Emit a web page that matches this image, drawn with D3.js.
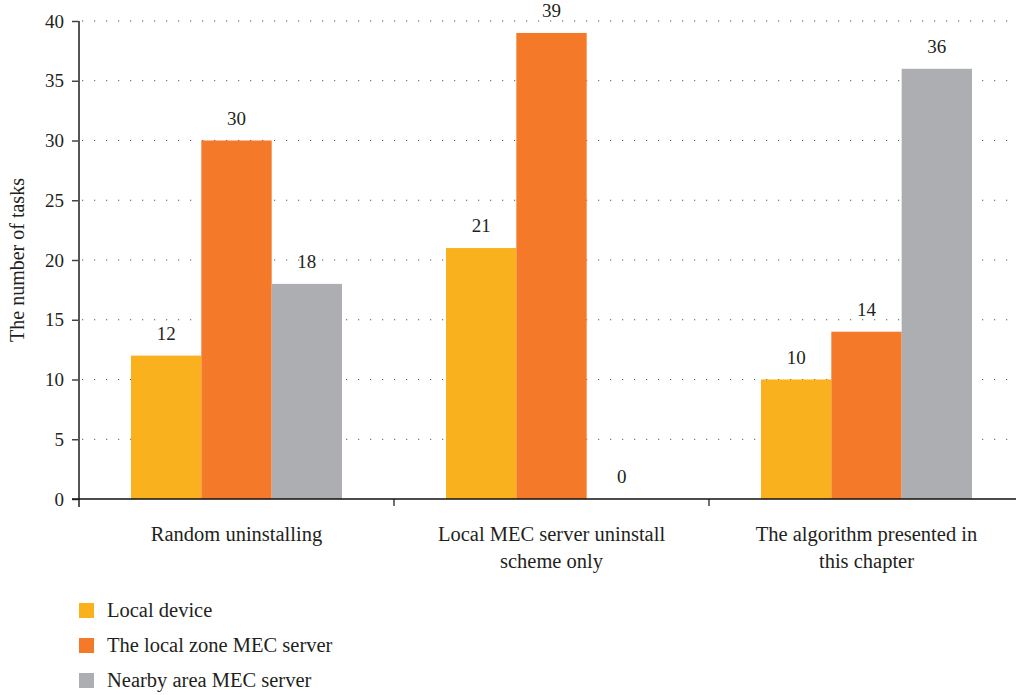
<!DOCTYPE html>
<html>
<head>
<meta charset="utf-8">
<script src="https://cdn.jsdelivr.net/npm/d3@7"></script>
<style>
  html, body { margin: 0; padding: 0; background: #fff; }
  svg text { font-family: "Liberation Serif", "DejaVu Serif", serif; fill: #231f20; }
</style>
</head>
<body>
<svg id="chart" width="1016" height="695"></svg>
<script>
// Task counts per offloading scheme
const categories = [
  ["Random uninstalling"],
  ["Local MEC server uninstall", "scheme only"],
  ["The algorithm presented in", "this chapter"]
];
const seriesNames = ["Local device", "The local zone MEC server", "Nearby area MEC server"];
const localDevice = [12, 21, 10];
const localZoneMEC = [30, 39, 14];
const nearbyAreaMEC = [18, 0, 36];
const yTicks = [0, 5, 10, 15, 20, 25, 30, 35, 40];
const colors = ["#F9B21E", "#F47A2A", "#ADAEB1"];

const seriesValues = [localDevice, localZoneMEC, nearbyAreaMEC];
const svg = d3.select("#chart");

const x0 = d3.scaleBand().domain(d3.range(categories.length)).range([79, 1024]).padding(0);
const x1 = d3.scaleBand().domain(d3.range(seriesNames.length))
  .range([52, x0.bandwidth() - 52]).padding(0);
const y = d3.scaleLinear().domain([0, 40]).range([499, 21]);

// dotted gridlines
svg.append("g").selectAll("line").data(yTicks.filter(t => t > 0)).join("line")
  .attr("x1", 82).attr("x2", 1016)
  .attr("y1", d => y(d)).attr("y2", d => y(d))
  .attr("stroke", "#555").attr("stroke-width", 1.2)
  .attr("stroke-dasharray", "1.2,10.8");

// bars
const groups = svg.append("g").selectAll("g").data(categories).join("g")
  .attr("transform", (d, i) => `translate(${x0(i)},0)`);
groups.each(function(c, ci) {
  const g = d3.select(this);
  seriesValues.forEach((vals, si) => {
    const v = vals[ci];
    g.append("rect")
      .attr("x", x1(si)).attr("width", x1.bandwidth())
      .attr("y", y(v)).attr("height", y(0) - y(v))
      .attr("fill", colors[si]);
    g.append("text")
      .attr("x", x1(si) + x1.bandwidth() / 2)
      .attr("y", y(v) - 16)
      .attr("text-anchor", "middle")
      .attr("font-size", 19)
      .text(v);
  });
});

// y axis
const yAxis = d3.axisLeft(y).tickValues(yTicks).tickSize(7).tickPadding(8);
const ya = svg.append("g").attr("transform", "translate(79,0)").call(yAxis);
ya.select(".domain").remove();
ya.selectAll(".tick line").attr("stroke", "#444").attr("stroke-width", 1.5);
ya.selectAll(".tick text").attr("font-size", 19).attr("font-family", "Liberation Serif, serif").attr("fill", "#231f20");
svg.append("line").attr("x1", 79).attr("x2", 79).attr("y1", y(40)).attr("y2", 507)
  .attr("stroke", "#555").attr("stroke-width", 2);

// x axis
svg.append("line").attr("x1", 72).attr("x2", 1016).attr("y1", y(0)).attr("y2", y(0))
  .attr("stroke", "#111").attr("stroke-width", 1.5);
svg.append("g").selectAll("line").data(d3.range(1, categories.length)).join("line")
  .attr("x1", d => x0(d)).attr("x2", d => x0(d))
  .attr("y1", y(0)).attr("y2", y(0) + 7)
  .attr("stroke", "#111").attr("stroke-width", 1.2);

// category labels
svg.append("g").selectAll("text").data(categories).join("text")
  .attr("x", (d, i) => x0(i) + x0.bandwidth() / 2)
  .attr("y", 541)
  .attr("text-anchor", "middle")
  .attr("font-size", 20.5)
  .each(function(lines) {
    const t = d3.select(this);
    lines.forEach((line, li) => {
      t.append("tspan").attr("x", t.attr("x")).attr("dy", li === 0 ? 0 : 27).text(line);
    });
  });

// y axis title
svg.append("text")
  .attr("transform", "translate(24,260) rotate(-90)")
  .attr("text-anchor", "middle")
  .attr("font-size", 20)
  .text("The number of tasks");

// legend
const legend = svg.append("g").selectAll("g").data(seriesNames).join("g")
  .attr("transform", (d, i) => `translate(79,${603 + i * 35})`);
legend.append("rect").attr("width", 15).attr("height", 15).attr("fill", (d, i) => colors[i]);
legend.append("text").attr("x", 28).attr("y", 14).attr("font-size", 20.5).text(d => d);
</script>
</body>
</html>
